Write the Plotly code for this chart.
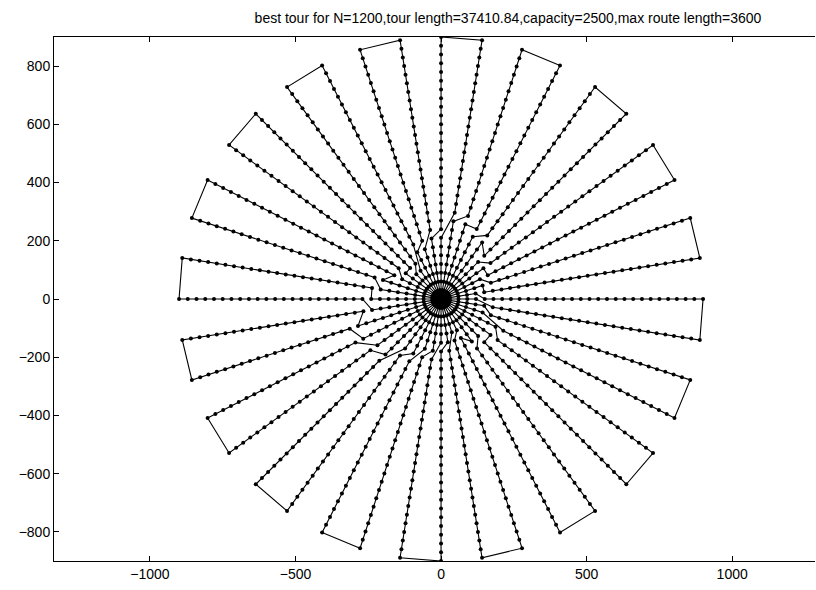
import math
import plotly.graph_objects as go

# Customer layout: 40 spokes of 30 customers each around a central depot
RAY_ANGLES_DEG = [0, 9, 18, 27, 36, 45, 54, 63, 72, 81,
                  90, 99, 108, 117, 126, 135, 144, 153, 162, 171,
                  180, 189, 198, 207, 216, 225, 234, 243, 252, 261,
                  270, 279, 288, 297, 306, 315, 324, 333, 342, 351]
RADII = [30, 60, 90, 120, 150, 180, 210, 240, 270, 300,
         330, 360, 390, 420, 450, 480, 510, 540, 570, 600,
         630, 660, 690, 720, 750, 780, 810, 840, 870, 900]
DEPOT = (0.0, 0.0)

# Each route serves the outer part of a spoke pair (outer ray, shared ray)
ROUTE_OUT = [1, 3, 5, 7, 9, 11, 13, 15, 17, 19, 21, 23, 25, 27, 29, 31, 33, 35, 37, 39]
ROUTE_BACK = [2, 4, 6, 8, 10, 12, 14, 16, 18, 20, 22, 24, 26, 28, 30, 32, 34, 36, 38, 0]
# Number of inner customers a route takes from the next route's outer ray
INNER_DEPTH = [5, 6, 8, 9, 7, 6, 4, 5, 7, 8, 10, 9, 7, 6, 5, 4, 6, 7, 5, 4]

TITLE = ("best tour for N=1200,tour length=37410.84,"
         "capacity=2500,max route length=3600")


def customer(ray, idx):
    a = math.radians(RAY_ANGLES_DEG[ray])
    r = RADII[idx - 1]
    return r * math.cos(a), r * math.sin(a)


n = len(RADII)
m = len(ROUTE_OUT)
xs, ys = [DEPOT[0]], [DEPOT[1]]


def visit(ray, idx):
    x, y = customer(ray, idx)
    xs.append(x)
    ys.append(y)


for k in range(m):
    a_ray, b_ray = ROUTE_OUT[k], ROUTE_BACK[k]
    next_ray = ROUTE_OUT[(k + 1) % m]
    depth = INNER_DEPTH[k]
    prev_depth = INNER_DEPTH[k - 1]
    for i in range(1, depth + 1):            # inner part of the neighbouring ray
        visit(next_ray, i)
    for i in range(depth + 1, n + 1):        # outward along the shared ray
        visit(b_ray, i)
    for i in range(n, prev_depth, -1):       # back along the outer ray
        visit(a_ray, i)
    for i in range(depth, 0, -1):            # home along the shared ray
        visit(b_ray, i)
    xs.append(DEPOT[0])
    ys.append(DEPOT[1])

fig = go.Figure()
fig.add_trace(go.Scatter(
    x=xs, y=ys, mode="lines+markers",
    line=dict(color="black", width=1.1),
    marker=dict(color="black", size=4),
    hoverinfo="skip", showlegend=False,
))

axis_font = dict(family="Liberation Sans, Arial, sans-serif", size=14, color="black")
fig.update_layout(
    width=816, height=590,
    margin=dict(l=54, r=1, t=37, b=29),
    paper_bgcolor="white", plot_bgcolor="white",
    title=dict(text=TITLE, x=0.6225, xref="container", xanchor="center",
               y=0.97, yref="container", yanchor="middle",
               font=dict(family="Liberation Sans, Arial, sans-serif", size=14, color="black")),
    xaxis=dict(range=[-1329.5, 1284.5], tickvals=[-1000, -500, 0, 500, 1000],
               ticks="inside", ticklen=5, tickcolor="black",
               showline=True, linecolor="black", linewidth=1, mirror="ticks",
               showgrid=False, zeroline=False, tickfont=axis_font),
    yaxis=dict(range=[-900, 900], tickvals=[-800, -600, -400, -200, 0, 200, 400, 600, 800],
               ticks="inside", ticklen=5, tickcolor="black",
               showline=True, linecolor="black", linewidth=1, mirror=False,
               showgrid=False, zeroline=False, tickfont=axis_font),
)

fig.write_html("out.html")
